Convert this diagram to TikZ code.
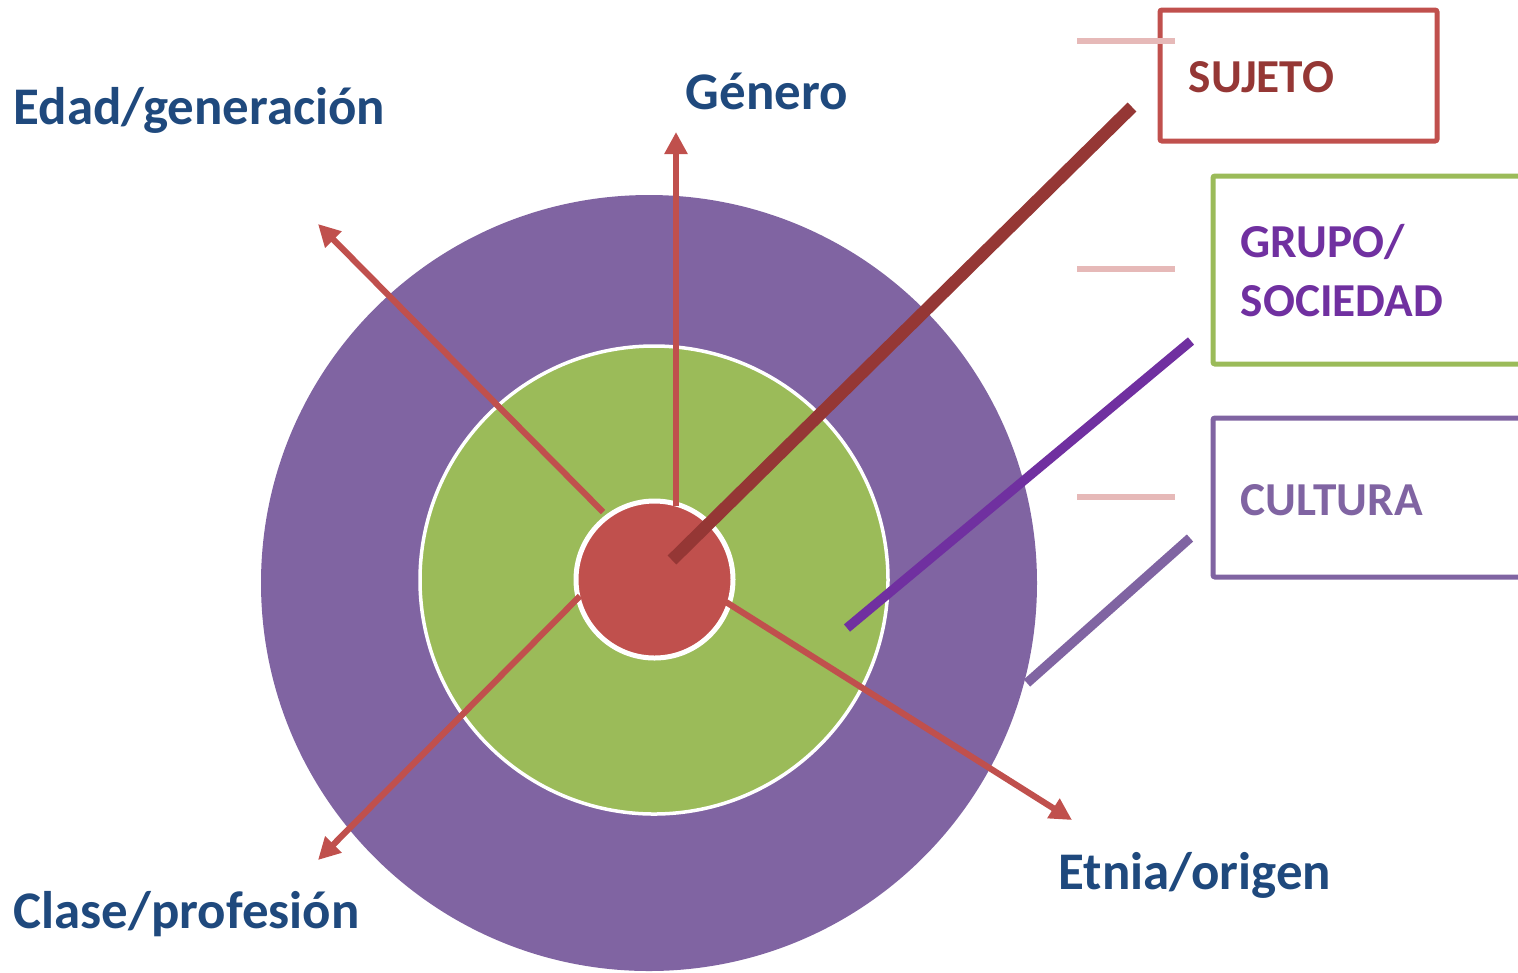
\documentclass[tikz,border=0pt]{standalone}
\usepackage{fontspec}
\setmainfont{Carlito}
\usetikzlibrary{arrows.meta}
\definecolor{cpurple}{HTML}{8064A2}
\definecolor{cgreen}{HTML}{9BBB59}
\definecolor{cred}{HTML}{C0504D}
\definecolor{cdred}{HTML}{953735}
\definecolor{cblue}{HTML}{1F497D}
\definecolor{cviolet}{HTML}{7030A0}
\definecolor{cpink}{HTML}{E6B9B8}
\tikzset{
  ring/.style={circle, inner sep=0pt, draw=white},
  axisarrow/.style={draw=cred, line width=0.062cm, -{Triangle[length=0.22cm,width=0.22cm]}},
  lbl/.style={anchor=base west, inner sep=0pt, text=cblue, font=\fontsize{15.05}{18}\selectfont\bfseries},
  boxlbl/.style={anchor=base west, inner sep=0pt, font=\fontsize{13.45}{16}\selectfont\bfseries},
  keybox/.style={line width=0.05cm, rounded corners=0.02cm},
  tick/.style={draw=cpink, line width=0.055cm},
}
\begin{document}
\begin{tikzpicture}
\useasboundingbox (0,0) rectangle (15.18,-9.72);
\clip (0,0) rectangle (15.18,-9.72);
% circles
\node[circle, inner sep=0pt, fill=cpurple, minimum size=7.76cm] (outer) at (6.49,-5.83) {};
\node[ring, fill=cgreen, line width=0.035cm, minimum size=4.68cm] (mid) at (6.54,-5.80) {};
% cultura line
\coordinate (cultEnd) at (11.90,-5.38);
\coordinate (cultStart) at (10.27,-6.83);
\draw[cpurple, line width=0.095cm] (cultStart) -- (cultEnd);
% inner circle
\node[ring, fill=cred, line width=0.05cm, minimum size=1.57cm] (core) at (6.545,-5.795) {};
% axis arrows
\coordinate (genStart) at (6.76,-5.06);
\coordinate (edadStart) at (6.03,-5.12);
\coordinate (claseStart) at (5.80,-5.96);
\coordinate (etniaStart) at (7.26,-6.02);
\coordinate (genTip) at (6.76,-1.32);
\coordinate (edadTip) at (3.18,-2.24);
\coordinate (claseTip) at (3.18,-8.60);
\coordinate (etniaTip) at (10.72,-8.20);
\draw[axisarrow] (genStart) -- (genTip);
\draw[axisarrow] (edadStart) -- (edadTip);
\draw[axisarrow] (claseStart) -- (claseTip);
\draw[axisarrow] (etniaStart) -- (etniaTip);
% sujeto line
\coordinate (sujStart) at (6.72,-5.60);
\coordinate (sujEnd) at (11.32,-1.07);
\draw[cdred, line width=0.125cm] (sujStart) -- (sujEnd);
% grupo line
\coordinate (grupStart) at (8.47,-6.28);
\coordinate (grupEnd) at (11.91,-3.41);
\draw[cviolet, line width=0.095cm] (grupStart) -- (grupEnd);
% boxes
\draw[keybox, cred] (11.60,-0.10) rectangle (14.37,-1.41);
\draw[keybox, cgreen] (12.13,-1.76) rectangle (15.40,-3.64);
\draw[keybox, cpurple] (12.13,-4.18) rectangle (15.40,-5.77);
% ticks
\coordinate (t1a) at (10.77,-0.41); \coordinate (t1b) at (11.75,-0.41);
\coordinate (t2a) at (10.77,-2.69); \coordinate (t2b) at (11.75,-2.69);
\coordinate (t3a) at (10.77,-4.97); \coordinate (t3b) at (11.75,-4.97);
\draw[tick] (t1a) -- (t1b);
\draw[tick] (t2a) -- (t2b);
\draw[tick] (t3a) -- (t3b);
% box texts
\node[boxlbl, text=cdred] (sujeto) at (11.88,-0.92) {SUJETO};
\node[boxlbl, text=cviolet] (grupo) at (12.40,-2.57) {GRUPO/};
\node[boxlbl, text=cviolet] (sociedad) at (12.40,-3.16) {SOCIEDAD};
\node[boxlbl, text=cpurple] (cultura) at (12.40,-5.15) {CULTURA};
% axis labels
\node[lbl] (edad) at (0.13,-1.24) {Edad/generación};
\node[lbl] (genero) at (6.85,-1.09) {Género};
\node[lbl] (etnia) at (10.58,-8.89) {Etnia/origen};
\node[lbl] (clase) at (0.13,-9.28) {Clase/profesión};
\end{tikzpicture}
\end{document}
